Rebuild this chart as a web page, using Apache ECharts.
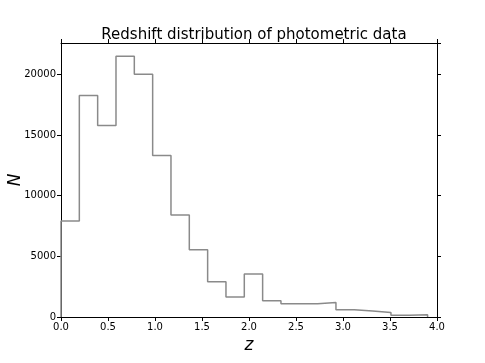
<!DOCTYPE html>
<html>
<head>
<meta charset="utf-8">
<script src="https://cdn.jsdelivr.net/npm/echarts@6/dist/echarts.min.js"></script>
<style>
  html, body { margin: 0; padding: 0; background: #fff; }
  #chart { width: 485px; height: 363px; }
</style>
</head>
<body>
<div id="chart"></div>
<script>
// histogram of photometric redshifts, 20 bins from z=0 to z~3.9
let binWidth = 0.195;
let counts = [7900, 18250, 15780, 21480, 20000, 13300, 8400, 5540, 2900, 1650,
              3540, 1340, 1100, 1100, 1200, 600, 490, 380, 140, 190];
let xTicks = [0, 0.5, 1, 1.5, 2, 2.5, 3, 3.5, 4];
let yTicks = [0, 5000, 10000, 15000, 20000];

// outline points of a step histogram, built from the bin counts
let outline = [[0, 0]];
for (let i = 0; i < counts.length; i++) {
  outline.push([i * binWidth, counts[i]]);
}
outline.push([counts.length * binWidth, counts[counts.length - 1]]);
outline.push([counts.length * binWidth, 0]);

let font = 'DejaVu Sans';
let chart = echarts.init(document.getElementById('chart'));
let spine = { show: true, onZero: false, lineStyle: { color: '#000', width: 1 } };
let tick = { show: true, inside: false, length: 4, lineStyle: { color: '#000' } };

chart.setOption({
  backgroundColor: '#ffffff',
  animation: false,
  title: {
    text: 'Redshift distribution of photometric data',
    left: 249,
    textAlign: 'center',
    top: 23,
    textStyle: { fontFamily: font, fontSize: 15, fontWeight: 'normal', color: '#000' }
  },
  grid: { left: 61, right: 48, top: 43, bottom: 46, containLabel: false, outerBoundsMode: 'none' },
  xAxis: [{
    type: 'value', min: 0, max: 4, interval: 0.5,
    axisLine: spine, axisTick: tick, splitLine: { show: false },
    axisLabel: { fontFamily: font, fontSize: 10, color: '#000', margin: 5,
      formatter: function (v) { return v.toFixed(1); } },
    name: 'z', nameLocation: 'middle', nameGap: 20, nameMoveOverlap: false,
    nameTextStyle: { fontFamily: font, fontSize: 17, fontStyle: 'italic', color: '#000' }
  }, {
    type: 'value', position: 'top', min: 0, max: 4, interval: 0.5,
    axisLine: spine, axisTick: tick, axisLabel: { show: false }, splitLine: { show: false }
  }],
  yAxis: [{
    type: 'value', min: 0, max: 22575, interval: 5000,
    axisLine: spine, axisTick: tick, splitLine: { show: false },
    axisLabel: { fontFamily: font, fontSize: 10, color: '#000', margin: 5, showMaxLabel: false,
      formatter: function (v) { return yTicks.indexOf(v) >= 0 ? String(v) : ''; } },
    name: 'N', nameLocation: 'middle', nameGap: 37, nameRotate: 90, nameMoveOverlap: false,
    nameTextStyle: { fontFamily: font, fontSize: 17, fontStyle: 'italic', color: '#000' }
  }, {
    type: 'value', position: 'right', min: 0, max: 22575, interval: 5000,
    axisLine: spine, axisTick: tick, axisLabel: { show: false }, splitLine: { show: false }
  }],
  series: [{
    type: 'line',
    step: 'end',
    data: outline,
    symbol: 'none',
    lineStyle: { color: '#8a8a8a', width: 1.5 },
    z: 1
  }]
});
</script>
</body>
</html>
